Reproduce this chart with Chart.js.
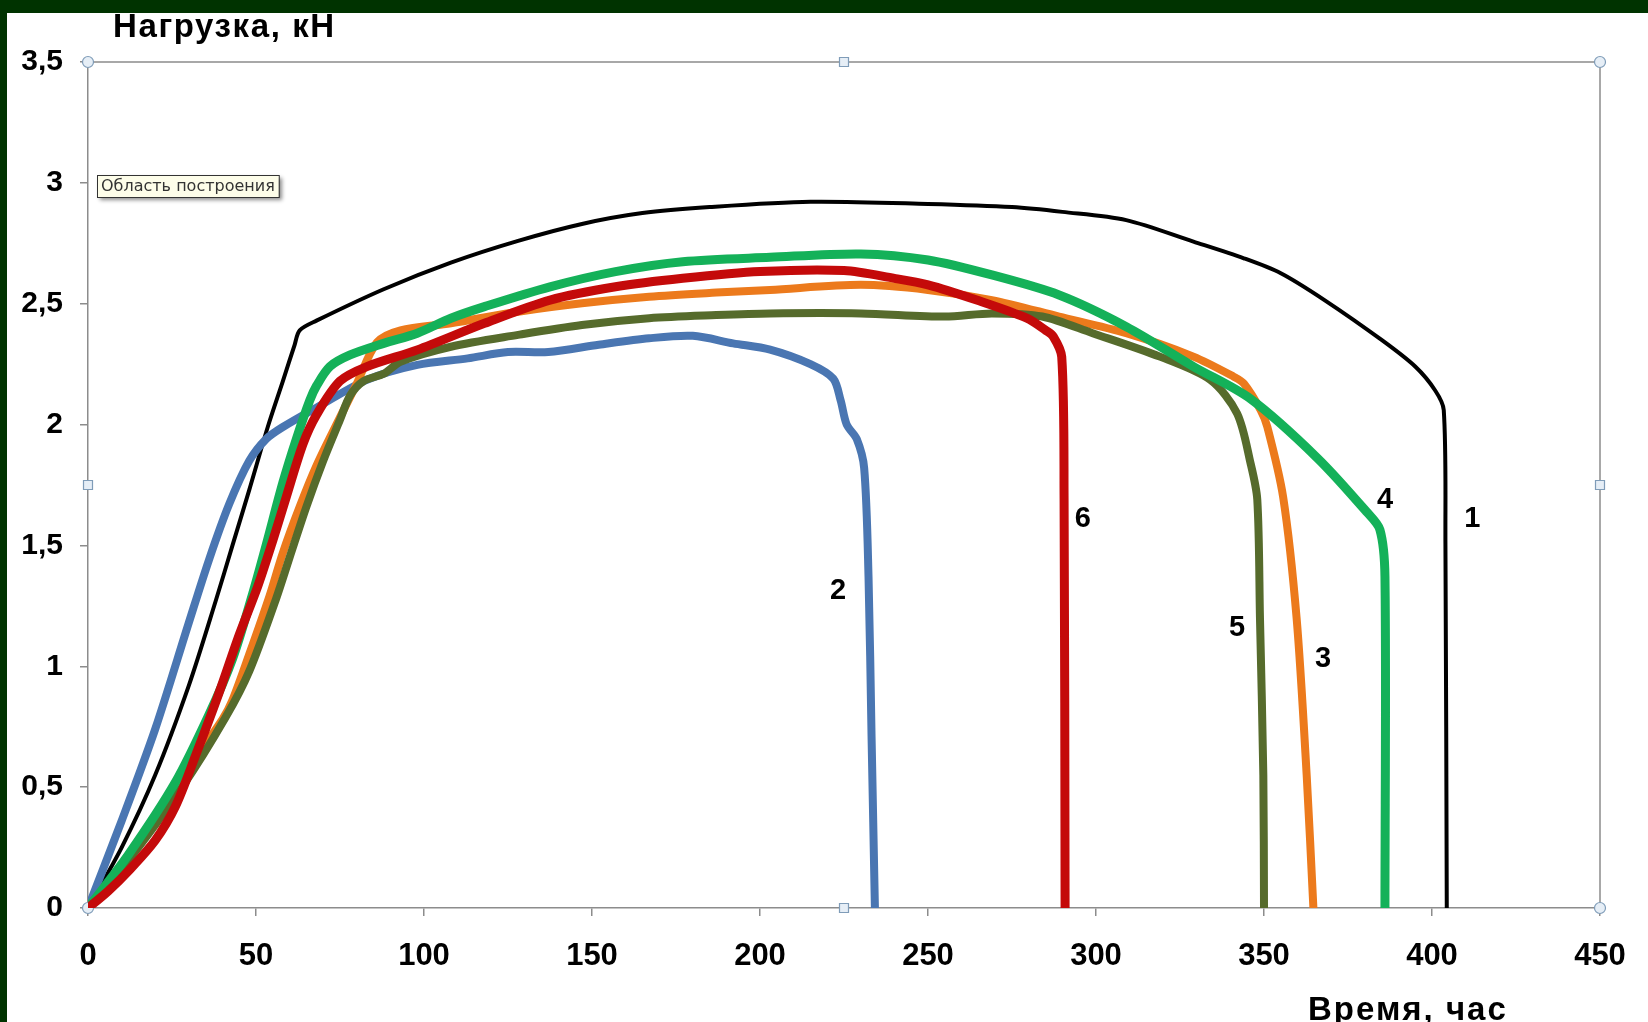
<!DOCTYPE html>
<html lang="ru">
<head>
<meta charset="utf-8">
<title>Нагрузка — время</title>
<script src="https://cdn.jsdelivr.net/npm/chart.js@4.4.1/dist/chart.umd.min.js"></script>
<style>
    html, body { margin: 0; padding: 0; background: #003300; overflow: hidden; }
    #frame { position: absolute; left: 7px; top: 13px; width: 1641px; height: 1009px; background: #fff; }
    canvas { display: block; }
</style>
</head>
<body>
<div id="frame"><canvas id="loadChart"></canvas></div>
<script>
// axis ticks
const xTicks = [0, 50, 100, 150, 200, 250, 300, 350, 400, 450];
const yTicks = [0, 0.5, 1, 1.5, 2, 2.5, 3, 3.5];

// curve 1
const time1 = [0, 10, 20, 30, 38, 43, 48, 53.5, 58, 61.5, 63, 68, 88, 108, 128, 147, 165, 185, 215, 250, 275, 290, 309, 329, 344, 355, 368, 385, 395, 401, 403.5, 404, 404.4];
const load1 = [0, 0.25, 0.55, 0.92, 1.27, 1.5, 1.73, 1.99, 2.18, 2.33, 2.39, 2.43, 2.56, 2.67, 2.76, 2.83, 2.875, 2.9, 2.922, 2.913, 2.9, 2.88, 2.846, 2.757, 2.688, 2.626, 2.515, 2.35, 2.24, 2.14, 2.06, 1.5, 0];

// curve 2
const time2 = [0, 10, 20, 30, 36, 42, 48, 53, 58, 68, 83, 98, 113, 125, 137, 152, 167, 180, 192, 203, 215, 221.8, 224, 225.8, 228.8, 231, 232.3, 233.2, 234.2];
const load2 = [0, 0.36, 0.74, 1.18, 1.44, 1.67, 1.85, 1.94, 1.99, 2.07, 2.185, 2.247, 2.274, 2.3, 2.3, 2.33, 2.357, 2.367, 2.336, 2.31, 2.25, 2.19, 2.1, 2.0, 1.94, 1.82, 1.37, 0.71, 0];

// curve 3
const time3 = [0, 9.5, 26, 40, 43, 48, 54, 58, 63, 68, 75, 80, 86, 93, 108, 128, 147, 167, 187, 203, 230, 250, 269, 289, 309, 329, 341, 344, 349, 351, 355.7, 359.7, 362.7, 364.7];
const load3 = [0, 0.17, 0.5, 0.78, 0.86, 1.05, 1.29, 1.47, 1.66, 1.83, 2.03, 2.17, 2.34, 2.39, 2.419, 2.467, 2.502, 2.529, 2.546, 2.557, 2.578, 2.557, 2.515, 2.447, 2.378, 2.281, 2.198, 2.17, 2.06, 1.99, 1.7, 1.2, 0.55, 0];

// curve 4
const time4 = [0, 12, 26, 36, 43, 49, 53, 58, 62, 66, 68, 72, 78, 88, 98, 108, 118, 137.5, 157, 177, 203, 230, 250, 269, 289, 309, 329, 346, 366, 380.6, 384.5, 386, 386];
const load4 = [0, 0.22, 0.52, 0.8, 1.03, 1.3, 1.5, 1.76, 1.94, 2.1, 2.16, 2.24, 2.288, 2.336, 2.378, 2.44, 2.488, 2.57, 2.633, 2.674, 2.692, 2.706, 2.681, 2.619, 2.536, 2.405, 2.24, 2.106, 1.86, 1.638, 1.565, 1.37, 0];

// curve 5
const time5 = [0, 10.5, 28, 41, 48, 56, 60, 65, 70, 75, 78, 82, 88, 93, 108, 128, 147, 167, 187, 203, 230, 255, 269, 284, 299, 319, 334, 342, 346, 348, 348.8, 349.8, 350];
const load5 = [0, 0.17, 0.5, 0.79, 0.98, 1.28, 1.45, 1.66, 1.85, 2.02, 2.12, 2.18, 2.21, 2.26, 2.322, 2.371, 2.412, 2.44, 2.453, 2.46, 2.46, 2.447, 2.46, 2.447, 2.378, 2.281, 2.185, 2.046, 1.84, 1.69, 1.2, 0.55, 0];

// curve 6
const time6 = [0, 6, 12.5, 20, 26, 32, 39, 45, 50.5, 55, 59, 64, 68, 75, 83, 98, 118, 137.5, 157, 177, 200, 225, 240, 250, 264.5, 279.4, 285, 287.3, 289.8, 290.5, 290.8];
const load6 = [0, 0.07, 0.16, 0.28, 0.42, 0.63, 0.89, 1.13, 1.33, 1.52, 1.7, 1.92, 2.04, 2.18, 2.24, 2.309, 2.419, 2.515, 2.57, 2.605, 2.633, 2.637, 2.605, 2.578, 2.515, 2.44, 2.39, 2.364, 2.28, 1.69, 0];

// curve number tags, placed in data units
const curveTags = [
    { text: '1', x: 412, y: 1.61 },
    { text: '2', x: 223.2, y: 1.31 },
    { text: '3', x: 367.6, y: 1.03 },
    { text: '4', x: 386, y: 1.69 },
    { text: '5', x: 342, y: 1.16 },
    { text: '6', x: 296.1, y: 1.61 }
];

const FONT = "'Liberation Sans', Arial, sans-serif";
const AXIS_GRAY = '#8c8c8c';

// later entries sit on top
const series = [
    { time: time1, load: load1, color: '#000000', width: 4, order: 5 },
    { time: time2, load: load2, color: '#4a76b2', width: 8, order: 4 },
    { time: time3, load: load3, color: '#ec7a1c', width: 8, order: 3 },
    { time: time5, load: load5, color: '#566b2c', width: 8, order: 2 },
    { time: time4, load: load4, color: '#14b159', width: 9, order: 1 },
    { time: time6, load: load6, color: '#c40a0a', width: 9, order: 0 }
];

const toPoints = (xs, ys) => xs.map((x, i) => ({ x, y: ys[i] }));
const decimalComma = (v) => String(v).replace('.', ',');

function drawHandle(ctx, x, y, round) {
    ctx.beginPath();
    if (round) ctx.arc(x, y, 5.5, 0, Math.PI * 2);
    else ctx.rect(x - 4.5, y - 4.5, 9, 9);
    ctx.fillStyle = '#e6eef6';
    ctx.fill();
    ctx.lineWidth = 1.2;
    ctx.strokeStyle = '#7f9cb8';
    ctx.stroke();
}

const plotDecor = {
    id: 'plotDecor',
    beforeDatasetsDraw(chart) {
        const { ctx, chartArea: a } = chart;
        ctx.save();
        ctx.strokeStyle = AXIS_GRAY;
        ctx.lineWidth = 1.5;
        ctx.beginPath();
        ctx.moveTo(a.left, a.top);
        ctx.lineTo(a.right, a.top);
        ctx.lineTo(a.right, a.bottom);
        ctx.stroke();

        const midX = (a.left + a.right) / 2;
        const midY = (a.top + a.bottom) / 2;
        [[a.left, a.top], [a.right, a.top], [a.left, a.bottom], [a.right, a.bottom]]
            .forEach(([x, y]) => drawHandle(ctx, x, y, true));
        [[midX, a.top], [midX, a.bottom], [a.left, midY], [a.right, midY]]
            .forEach(([x, y]) => drawHandle(ctx, x, y, false));
        ctx.restore();
    },
    afterDraw(chart) {
        const { ctx, scales } = chart;
        ctx.save();
        ctx.fillStyle = '#000';
        ctx.textAlign = 'left';
        ctx.textBaseline = 'alphabetic';
        ctx.font = `bold 33px ${FONT}`;
        ctx.letterSpacing = '1.6px';
        ctx.fillText('Нагрузка, кН', 106, 24);
        ctx.letterSpacing = '2px';
        ctx.fillText('Время, час', 1301, 1007);
        ctx.letterSpacing = '0px';

        ctx.font = `bold 29px ${FONT}`;
        ctx.textAlign = 'center';
        ctx.textBaseline = 'middle';
        curveTags.forEach((tag) => {
            ctx.fillText(tag.text, scales.x.getPixelForValue(tag.x), scales.y.getPixelForValue(tag.y));
        });

        // hover hint box over the plot area
        const hint = 'Область построения';
        ctx.font = `16px 'DejaVu Sans', sans-serif`;
        const w = ctx.measureText(hint).width + 8;
        const bx = 90, by = 162, bh = 22;
        ctx.shadowColor = 'rgba(0,0,0,0.45)';
        ctx.shadowBlur = 4;
        ctx.shadowOffsetX = 3;
        ctx.shadowOffsetY = 3;
        ctx.fillStyle = '#fdfde9';
        ctx.fillRect(bx, by, w, bh);
        ctx.shadowColor = 'transparent';
        ctx.lineWidth = 1;
        ctx.strokeStyle = '#333';
        ctx.strokeRect(bx + 0.5, by + 0.5, w, bh);
        ctx.fillStyle = '#333';
        ctx.textAlign = 'left';
        ctx.fillText(hint, bx + 4, by + bh / 2 + 1);
        ctx.restore();
    }
};

new Chart(document.getElementById('loadChart'), {
    type: 'line',
    data: {
        datasets: series.map((s) => ({
            data: toPoints(s.time, s.load),
            borderColor: s.color,
            backgroundColor: s.color,
            borderWidth: s.width,
            order: s.order,
            tension: 0.3,
            pointRadius: 0,
            borderCapStyle: 'round',
            borderJoinStyle: 'round',
            fill: false
        }))
    },
    options: {
        responsive: true,
        maintainAspectRatio: false,
        animation: false,
        events: [],
        layout: { padding: { top: 49, right: 48, left: 0, bottom: 0 } },
        plugins: {
            legend: { display: false },
            tooltip: { enabled: false }
        },
        scales: {
            x: {
                type: 'linear',
                min: 0,
                max: 450,
                afterBuildTicks: (scale) => { scale.ticks = xTicks.map((v) => ({ value: v })); },
                afterFit: (scale) => { scale.height = 114; },
                border: { display: true, color: AXIS_GRAY, width: 1.5 },
                grid: { drawOnChartArea: false, drawTicks: true, tickLength: 8, color: AXIS_GRAY, lineWidth: 1.5 },
                ticks: {
                    padding: 22,
                    color: '#000',
                    maxRotation: 0,
                    font: { family: FONT, size: 31, weight: 'bold' }
                }
            },
            y: {
                min: 0,
                max: 3.5,
                afterBuildTicks: (scale) => { scale.ticks = yTicks.map((v) => ({ value: v })); },
                afterFit: (scale) => { scale.width = 81; },
                border: { display: true, color: AXIS_GRAY, width: 1.5 },
                grid: { drawOnChartArea: false, drawTicks: true, tickLength: 8, color: AXIS_GRAY, lineWidth: 1.5 },
                ticks: {
                    padding: 17,
                    color: '#000',
                    callback: (v) => decimalComma(v),
                    font: { family: FONT, size: 30, weight: 'bold' }
                }
            }
        }
    },
    plugins: [plotDecor]
});
</script>
</body>
</html>
